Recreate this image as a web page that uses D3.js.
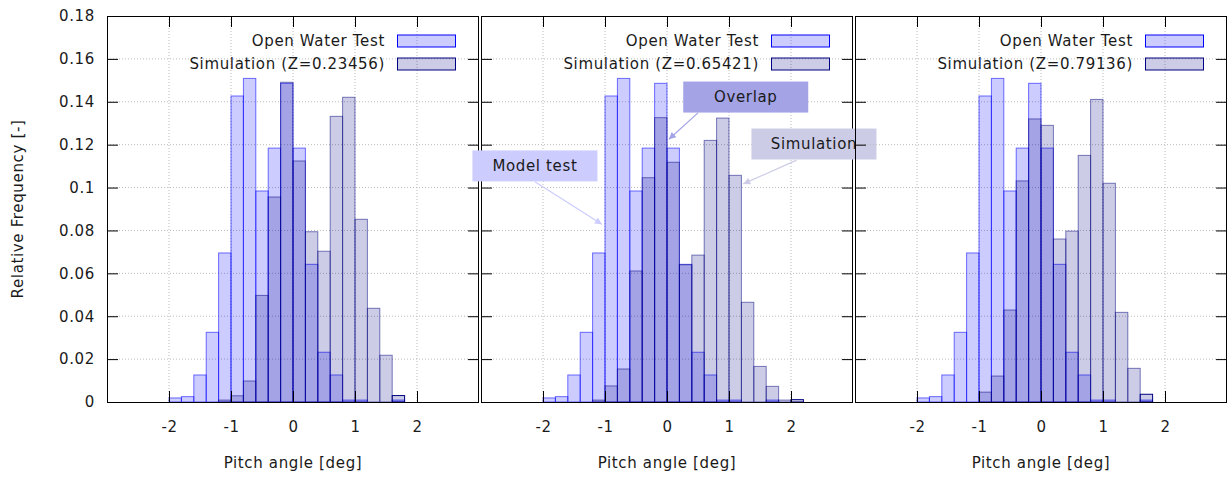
<!DOCTYPE html>
<html>
<head>
<meta charset="utf-8">
<script src="https://cdn.jsdelivr.net/npm/d3@7"></script>
<style>
  body { margin: 0; background: #fff; }
  text { font-family: 'DejaVu Sans', sans-serif; font-size: 15px; letter-spacing: 0.65px; fill: #1a1a1a; }
</style>
</head>
<body>
<script>
// histogram bins (left edges, width 0.2 deg)
const binStarts = [-2.0, -1.8, -1.6, -1.4, -1.2, -1.0, -0.8, -0.6, -0.4, -0.2, 0.0, 0.2, 0.4, 0.6, 0.8, 1.0, 1.2, 1.4, 1.6, 1.8, 2.0];
const binWidth = 0.2;

// relative frequency, open water test (same in every panel)
const openWater = [0.0019, 0.0025, 0.0126, 0.0325, 0.0695, 0.1427, 0.1509, 0.0984, 0.1184, 0.1486, 0.1184, 0.0642, 0.0232, 0.0126, 0.0009, 0.0009, 0, 0, 0.0009, 0, 0];

// relative frequency, simulations
const simA = [0, 0, 0, 0, 0.0009, 0.0029, 0.0098, 0.0497, 0.0956, 0.1491, 0.1124, 0.0794, 0.0703, 0.1332, 0.1421, 0.0852, 0.0437, 0.0218, 0.0030, 0, 0];
const simB = [0, 0, 0, 0, 0.0009, 0.0075, 0.0154, 0.0611, 0.1046, 0.1326, 0.1118, 0.0640, 0.0685, 0.1220, 0.1324, 0.1057, 0.0465, 0.0166, 0.0073, 0.0009, 0.0011];
const simC = [0, 0, 0, 0, 0, 0.0046, 0.0121, 0.0429, 0.1031, 0.1320, 0.1290, 0.0760, 0.0797, 0.1150, 0.1411, 0.1020, 0.0418, 0.0157, 0.0036, 0, 0];
const zValues = ['0.23456', '0.65421', '0.79136'];

const xTicks = [-2, -1, 0, 1, 2];
const yTicks = [0, 0.02, 0.04, 0.06, 0.08, 0.1, 0.12, 0.14, 0.16, 0.18];

// annotations in the middle panel: label centre, arrow start, arrow end (data units)
const annoLabels = ['Model test', 'Overlap', 'Simulation'];
const annoPos = [[-2.13, 0.1101], [1.27, 0.1422], [2.37, 0.1203]];
const annoFrom = [[-2.13, 0.1027], [0.50, 0.1348], [2.09, 0.1128]];
const annoTo = [[-1.05, 0.0829], [0.03, 0.1225], [1.23, 0.1017]];

const width = 1227;
const height = 478;
const panelW = 372;
const plotTop = 16;
const plotBottom = 402;
const panelLefts = [107, 481, 855];

const owFill = '#0000ff';
const simFill = '#000080';
const annoColors = ['#ccccff', '#a3a3e6', '#cccce6'];

const svg = d3.select('body')
  .append('svg')
  .attr('width', width)
  .attr('height', height);

const defs = svg.append('defs');
annoColors.forEach((c, i) => {
  defs.append('marker')
    .attr('id', 'head' + i)
    .attr('viewBox', '0 0 10 10')
    .attr('refX', 10)
    .attr('refY', 5)
    .attr('markerUnits', 'userSpaceOnUse')
    .attr('markerWidth', 9)
    .attr('markerHeight', 7)
    .attr('orient', 'auto')
    .append('path')
    .attr('d', 'M0,0L10,5L0,10Z')
    .attr('fill', c);
});

const y = d3.scaleLinear()
  .domain([0, 0.18])
  .range([plotBottom, plotTop]);

const x = d3.scaleLinear()
  .domain([-3, 3])
  .range([0, panelW]);

const sims = [simA, simB, simC];

sims.forEach((sim, p) => {
  const g = svg.append('g')
    .attr('transform', `translate(${panelLefts[p]},0)`);

  // grid
  g.append('g')
    .selectAll('line')
    .data(xTicks)
    .enter()
    .append('line')
    .attr('x1', d => x(d)).attr('x2', d => x(d))
    .attr('y1', plotTop).attr('y2', plotBottom)
    .style('stroke', '#bbb')
    .style('stroke-dasharray', '1,2');
  g.append('g')
    .selectAll('line')
    .data(yTicks.slice(1, -1))
    .enter()
    .append('line')
    .attr('x1', 0).attr('x2', panelW)
    .attr('y1', d => y(d)).attr('y2', d => y(d))
    .style('stroke', '#bbb')
    .style('stroke-dasharray', '1,2');

  // open water bars
  const ow = binStarts.map((b, i) => ({b: b, v: openWater[i]})).filter(d => d.v > 0);
  g.append('g')
    .selectAll('rect')
    .data(ow)
    .enter()
    .append('rect')
    .attr('x', d => x(d.b))
    .attr('width', d => x(d.b + binWidth) - x(d.b))
    .attr('y', d => y(d.v))
    .attr('height', d => plotBottom - y(d.v))
    .style('fill', owFill)
    .style('fill-opacity', 0.2)
    .style('stroke', owFill)
    .style('stroke-opacity', 0.55);

  // simulation bars
  const sd = binStarts.map((b, i) => ({b: b, v: sim[i]})).filter(d => d.v > 0);
  g.append('g')
    .selectAll('rect')
    .data(sd)
    .enter()
    .append('rect')
    .attr('x', d => x(d.b))
    .attr('width', d => x(d.b + binWidth) - x(d.b))
    .attr('y', d => y(d.v))
    .attr('height', d => plotBottom - y(d.v))
    .style('fill', simFill)
    .style('fill-opacity', 0.2)
    .style('stroke', simFill)
    .style('stroke-opacity', (d, i) => i === sd.length - 1 ? 1 : 0.5);

  // axes, ticks pointing inwards
  g.append('g')
    .call(d3.axisLeft(y).tickValues(yTicks).tickSize(-11).tickPadding(12)
      .tickFormat(d => p === 0 ? String(+d.toFixed(2)) : ''));
  g.append('g')
    .attr('transform', `translate(${panelW},0)`)
    .call(d3.axisRight(y).tickValues(yTicks).tickSize(-11).tickFormat(''));
  g.append('g')
    .attr('transform', `translate(0,${plotBottom})`)
    .call(d3.axisBottom(x).tickValues(xTicks).tickSize(-11).tickPadding(19.5)
      .tickFormat(d => String(d)));
  g.append('g')
    .attr('transform', `translate(0,${plotTop})`)
    .call(d3.axisTop(x).tickValues(xTicks).tickSize(-11).tickFormat(''));
  g.selectAll('.domain').remove();

  // frame
  g.append('rect')
    .attr('x', 0.5)
    .attr('y', plotTop + 0.5)
    .attr('width', panelW - 1)
    .attr('height', plotBottom - plotTop)
    .style('fill', 'none')
    .style('stroke', '#000');

  g.append('text')
    .attr('x', x(0))
    .attr('y', 463)
    .attr('text-anchor', 'middle')
    .attr('dominant-baseline', 'central')
    .text('Pitch angle [deg]');

  // legend
  const legend = [['Open Water Test', owFill, '#0000ff'], [`Simulation (Z=${zValues[p]})`, simFill, '#000080']];
  legend.forEach((l, i) => {
    const ly = 41 + i * 23;
    g.append('text')
      .attr('x', 278)
      .attr('y', ly)
      .attr('text-anchor', 'end')
      .attr('dominant-baseline', 'central')
      .text(l[0]);
    g.append('rect')
      .attr('x', 290.5)
      .attr('y', ly - 6)
      .attr('width', 58)
      .attr('height', 12)
      .style('fill', l[1])
      .style('fill-opacity', 0.2)
      .style('stroke', l[2]);
  });

  // annotations
  if (p === 1) {
    annoLabels.forEach((t, i) => {
      const cx = x(annoPos[i][0]);
      const cy = y(annoPos[i][1]);
      g.append('rect')
        .attr('x', cx - 62.5)
        .attr('y', cy - 15.5)
        .attr('width', 125)
        .attr('height', 31)
        .style('fill', annoColors[i]);
      g.append('text')
        .attr('x', cx)
        .attr('y', cy)
        .attr('text-anchor', 'middle')
        .attr('dominant-baseline', 'central')
        .text(t);
      g.append('line')
        .attr('x1', x(annoFrom[i][0]))
        .attr('y1', y(annoFrom[i][1]))
        .attr('x2', x(annoTo[i][0]))
        .attr('y2', y(annoTo[i][1]))
        .style('stroke', annoColors[i])
        .style('stroke-width', 1.2)
        .attr('marker-end', `url(#head${i})`);
    });
  }
});

svg.append('text')
  .attr('transform', `translate(18,${(plotTop + plotBottom) / 2}) rotate(-90)`)
  .attr('text-anchor', 'middle')
  .attr('dominant-baseline', 'central')
  .text('Relative Frequency [-]');
</script>
</body>
</html>
